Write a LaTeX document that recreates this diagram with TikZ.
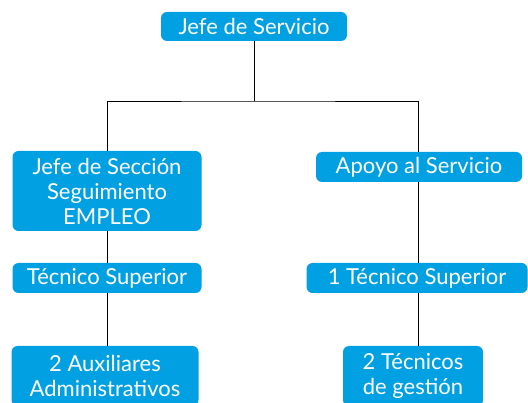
\documentclass[tikz,border=0pt]{standalone}
\usepackage{fontspec}
\newfontfamily\unifont{Lato}
\usetikzlibrary{positioning}

\definecolor{azul}{RGB}{0,160,227}
\tikzset{
  unidad/.style={fill=azul, rounded corners=6pt, text=white, align=center,
    inner sep=0pt, font=\unifont\fontsize{22}{25}\selectfont},
  enlace/.style={draw=black, line width=0.8pt}
}

\begin{document}
\begin{tikzpicture}[x=1pt,y=-1pt]
				\useasboundingbox (0,0) rectangle (528,403);
				\clip (0,0) rectangle (528,403);
				
				\node[unidad, minimum width=186pt, minimum height=29pt] (jefe) at (254,26.5) {Jefe de Servicio};
				\coordinate (barra) at (254,101);
				
				% rama izquierda
				\node[unidad, minimum width=189pt, minimum height=80pt] (seccion) at (107,191) {Jefe de Secci\'on\\Seguimiento\\EMPLEO};
				\node[unidad, minimum width=189pt, minimum height=30pt] (tecsupi) at (107,278) {T\'ecnico Superior};
				\node[unidad, minimum width=187pt, minimum height=60pt] (auxiliares) at (105,376) {2 Auxiliares\\Administrativos};
				
				% rama derecha
				\node[unidad, minimum width=206pt, minimum height=30pt] (apoyo) at (419,167) {Apoyo al Servicio};
				\node[unidad, minimum width=221pt, minimum height=30pt] (tecsupd) at (417,278) {1 T\'ecnico Superior};
				\node[unidad, minimum width=140pt, minimum height=60pt] (gestion) at (413,376) {2 T\'ecnicos\\de gesti\'on};
				
				\draw[enlace] (jefe.south) -- (barra);
				\draw[enlace] (seccion.north) |- (barra) -| (apoyo.north -| 418,0);
				\draw[enlace] (seccion.south) -- (tecsupi.north);
				\draw[enlace] (tecsupi.south) -- (tecsupi.south |- auxiliares.north);
				\draw[enlace] (apoyo.south -| 418,0) -- (tecsupd.north -| 418,0);
				\draw[enlace] (tecsupd.south -| 418,0) -- (gestion.north -| 418,0);
			\end{tikzpicture}
\end{document}
